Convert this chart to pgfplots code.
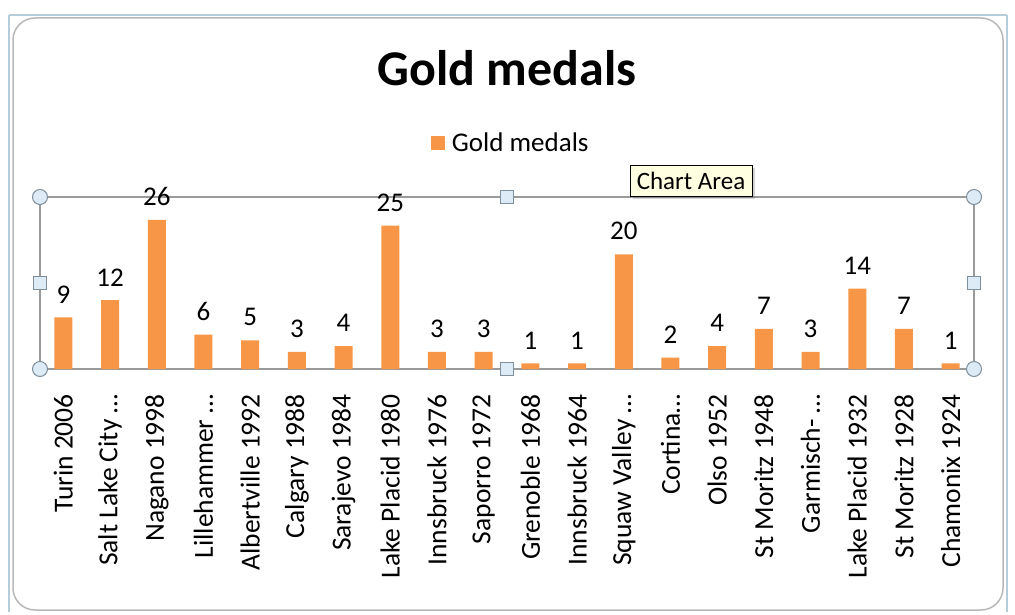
\documentclass[border=0pt]{standalone}
\usepackage{pgfplots}
\pgfplotsset{compat=1.18}
\usepackage{fontspec}
\setmainfont{Carlito}
\usetikzlibrary{shadows}
\definecolor{barorange}{HTML}{F79646}
\definecolor{handlefill}{HTML}{DCEBF5}
\definecolor{handledraw}{HTML}{7F8F9C}
\definecolor{framegray}{HTML}{9A9A9A}
\definecolor{outerblue}{HTML}{B4CDD8}
\definecolor{tipfill}{HTML}{FFFFE1}
\begin{document}
\begin{tikzpicture}[x=1pt,y=1pt]
\path[use as bounding box] (0,0) rectangle (1015,614);
% chart area frame
\draw[outerblue, line width=1.5pt] (9,599) -- (1007,599);
\draw[outerblue, line width=1.5pt] (9,599) -- (9,2);
\draw[outerblue, line width=1.5pt] (1007,599) -- (1007,2);
\draw[framegray!70, line width=1.5pt, rounded corners=22pt] (13,4) rectangle (1003,596);
\node[font=\fontsize{50}{56}\selectfont\bfseries] at (507,546) {Gold medals};
\begin{axis}[
  at={(40pt,245pt)}, anchor=south west,
  scale only axis, width=934pt, height=172pt,
  xmin=-0.5, xmax=19.5, ymin=0, ymax=30,
  ybar, bar width=18pt,
  axis line style={draw=framegray, line width=1.5pt},
  ytick=\empty,
  xtick={0,...,19},
  major tick length=0pt,
  xticklabels={Turin 2006, Salt Lake City …, Nagano 1998, Lillehammer …, Albertville 1992, Calgary 1988, Sarajevo 1984, Lake Placid 1980, Innsbruck 1976, Saporro 1972, Grenoble 1968, Innsbruck 1964, Squaw Valley …, Cortina…, Olso 1952, St Moritz 1948, Garmisch- …, Lake Placid 1932, St Moritz 1928, Chamonix 1924},
  xticklabel style={rotate=90, anchor=east, inner sep=0pt, font=\fontsize{27.5}{32}\selectfont},
  xticklabel shift=25pt,
  /pgf/number format/assume math mode=true,
  nodes near coords,
  every node near coord/.append style={font=\fontsize{27}{31}\selectfont, inner sep=0pt, yshift=14pt, anchor=south},
  clip=false,
  legend style={at={(0.504,1.314)}, anchor=center, draw=none, fill=none, font=\fontsize{27}{31}\selectfont},
  legend image code/.code={\path (0pt,0pt) -- (19pt,0pt); \fill[barorange] (0pt,-7pt) rectangle (14pt,7pt);},
]
\addplot[fill=barorange, draw=none] coordinates {
(0,9) (1,12) (2,26) (3,6) (4,5) (5,3) (6,4) (7,25) (8,3) (9,3)
(10,1) (11,1) (12,20) (13,2) (14,4) (15,7) (16,3) (17,14) (18,7) (19,1)};
\addlegendentry{Gold medals}
\end{axis}
% selection handles
\foreach \p in {(40,417),(974,417),(40,245),(974,245)}
  \draw[handledraw, fill=handlefill, line width=1pt] \p circle (7.5);
\foreach \p in {(507,417),(507,245),(40,331),(974,331)}
  \draw[handledraw, fill=handlefill, line width=1pt] \p ++(-6.5,-6.5) rectangle ++(13,13);
% tooltip
\node[draw=black, fill=tipfill, line width=1pt, drop shadow={shadow xshift=3pt, shadow yshift=-3pt, opacity=0.35},
  minimum width=122pt, minimum height=31pt, inner sep=0pt, font=\fontsize{25}{29}\selectfont] at (691,433) {Chart Area};
\end{tikzpicture}
\end{document}
